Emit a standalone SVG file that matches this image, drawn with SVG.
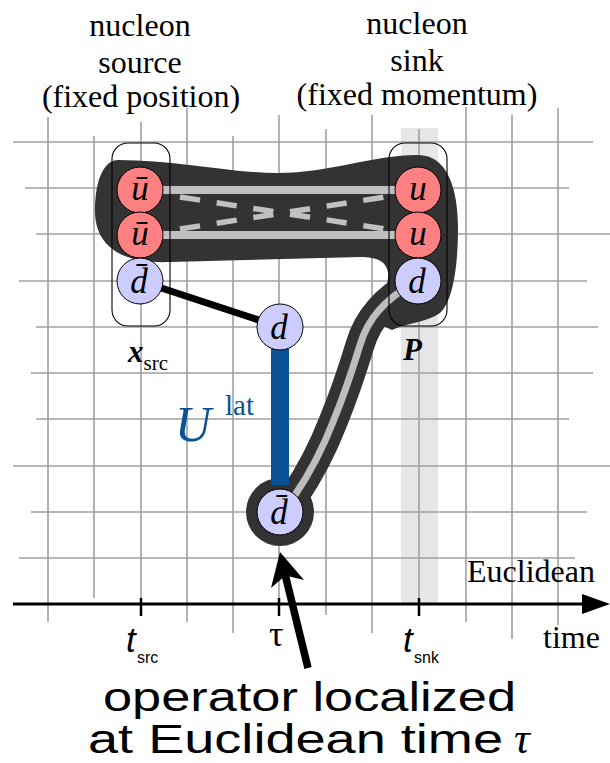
<svg xmlns="http://www.w3.org/2000/svg" width="610" height="763" viewBox="0 0 610 763">
<style>
.grid line{stroke:#a0a0a0;stroke-width:1.6}
.serif{font-family:"Liberation Serif","Times New Roman",serif}
.sans{font-family:"Liberation Sans",Arial,sans-serif}
.q{font-family:"Liberation Serif","Times New Roman",serif;font-style:italic;font-size:35px;text-anchor:middle;fill:#000}
.red{fill:#ff8080;stroke:#000;stroke-width:1}
.blue{fill:#ccccff;stroke:#000;stroke-width:1}
.box{fill:none;stroke:#000;stroke-width:1.1}
</style>
<rect x="0" y="0" width="610" height="763" fill="#fff"/>
<rect id="sink-band" x="401" y="128" width="37" height="476" fill="#e6e6e6"/>
<g class="grid" id="grid">
<line x1="13" y1="142" x2="593" y2="142"/>
<line x1="25" y1="188" x2="569" y2="188"/>
<line x1="36" y1="234" x2="610" y2="234"/>
<line x1="19" y1="281" x2="587" y2="281"/>
<line x1="36" y1="327" x2="598" y2="327"/>
<line x1="31" y1="373" x2="593" y2="373"/>
<line x1="36" y1="419" x2="569" y2="419"/>
<line x1="13" y1="466" x2="610" y2="466"/>
<line x1="31" y1="512" x2="587" y2="512"/>
<line x1="19" y1="558" x2="575" y2="558"/>
<line x1="48" y1="117" x2="48" y2="622"/>
<line x1="94" y1="136" x2="94" y2="598"/>
<line x1="141" y1="122" x2="141" y2="604"/>
<line x1="187" y1="108" x2="187" y2="622"/>
<line x1="233" y1="136" x2="233" y2="633"/>
<line x1="279" y1="115" x2="279" y2="604"/>
<line x1="326" y1="129" x2="326" y2="615"/>
<line x1="372" y1="115" x2="372" y2="633"/>
<line x1="419" y1="129" x2="419" y2="604"/>
<line x1="466" y1="107" x2="466" y2="622"/>
<line x1="512" y1="115" x2="512" y2="639"/>
<line x1="558" y1="108" x2="558" y2="625"/>
</g>
<g id="nucleon-blob">
<path d="M118,160 C175,160 230,173 278,173 C330,173 372,155 418,155 C448,155 458,190 458,228 C458,270 452,302 440,313 C428,322 410,322 392,330 L366,318 C380,300 390,285 388,272 C386,262 378,257 360,257 L170,262 C120,264 95,245 95,211 C95,178 105,160 118,160 Z" fill="#333"/>
<path d="M413,283 C385,300 368,318 360,345 C350,378 342,400 333,422 C322,450 312,470 295,495 L282,512" fill="none" stroke="#333" stroke-width="29" stroke-linecap="round"/>
<circle cx="280" cy="512" r="34" fill="#333"/>
</g>
<g id="connectors">
<line x1="160" y1="190" x2="400" y2="190" stroke="#c0c0c0" stroke-width="8"/>
<line x1="160" y1="235" x2="400" y2="235" stroke="#c0c0c0" stroke-width="8"/>
<line x1="180" y1="197" x2="385" y2="229" stroke="#c0c0c0" stroke-width="5.5" stroke-dasharray="20.3 16.8"/>
<line x1="180" y1="229" x2="385" y2="197" stroke="#c0c0c0" stroke-width="5.5" stroke-dasharray="20.3 16.8"/>
<path d="M413,283 C385,300 368,318 360,345 C350,378 342,400 333,422 C322,450 312,470 295,495 L282,512" fill="none" stroke="#bdbdbd" stroke-width="7"/>
<line x1="140" y1="281" x2="280" y2="327" stroke="#000" stroke-width="7"/>
<line x1="280" y1="345" x2="280" y2="485" stroke="#0a5296" stroke-width="18"/>
</g>
<g id="source-box"><rect class="box" x="112" y="143" width="58" height="183" rx="16"/></g>
<g id="sink-box"><rect class="box" x="389" y="143" width="58" height="183" rx="16"/></g>
<g id="src-ubar1"><circle class="red" cx="140" cy="190" r="23"/><text class="q" x="140" y="200">ū</text></g>
<g id="src-ubar2"><circle class="red" cx="140" cy="235" r="23"/><text class="q" x="140" y="245">ū</text></g>
<g id="src-dbar"><circle class="blue" cx="140" cy="281" r="23"/><text class="q" x="139" y="293">d̄</text></g>
<g id="snk-u1"><circle class="red" cx="418" cy="190" r="23"/><text class="q" x="418" y="200">u</text></g>
<g id="snk-u2"><circle class="red" cx="418" cy="235" r="23"/><text class="q" x="418" y="245">u</text></g>
<g id="snk-d"><circle class="blue" cx="418" cy="281" r="23"/><text class="q" x="417" y="293">d</text></g>
<g id="op-d"><circle class="blue" cx="280" cy="327" r="23"/><text class="q" x="279" y="339">d</text></g>
<g id="op-dbar"><circle class="blue" cx="280" cy="512" r="23"/><text class="q" x="279" y="524">d̄</text></g>
<g id="labels">
<text class="serif" x="128" y="362" font-size="31" font-weight="bold" font-style="italic">x<tspan font-size="21" font-weight="normal" font-style="normal" dy="8">src</tspan></text>
<text class="serif" x="403" y="360" font-size="31" font-weight="bold" font-style="italic">P</text>
<text class="serif" x="175" y="441" font-size="50" font-style="italic" fill="#0a5296">U</text>
<text class="serif" x="225" y="415" font-size="29" fill="#0a5296">lat</text>
<g class="serif" font-size="32" text-anchor="middle">
<text x="140" y="36">nucleon</text>
<text x="140" y="73">source</text>
<text x="141" y="107">(fixed position)</text>
<text x="417" y="34">nucleon</text>
<text x="417" y="71">sink</text>
<text x="417" y="105">(fixed momentum)</text>
</g>
<text class="serif" x="467" y="582" font-size="32">Euclidean</text>
<text class="serif" x="543" y="648" font-size="32">time</text>
<text class="sans" x="126" y="652" font-size="35" font-style="italic">t</text>
<text class="sans" x="137" y="663" font-size="16">src</text>
<text class="serif" x="269" y="646" font-size="36">τ</text>
<text class="sans" x="403" y="652" font-size="35" font-style="italic">t</text>
<text class="sans" x="414" y="663" font-size="16">snk</text>
</g>
<g id="axis">
<line x1="13" y1="604" x2="586" y2="604" stroke="#000" stroke-width="3"/>
<polygon points="610,604 582,594 582,614" fill="#000"/>
<line x1="141" y1="598" x2="141" y2="616" stroke="#000" stroke-width="2.5"/>
<line x1="279" y1="598" x2="279" y2="616" stroke="#000" stroke-width="2.5"/>
<line x1="419" y1="598" x2="419" y2="616" stroke="#000" stroke-width="2.5"/>
</g>
<g id="pointer-arrow">
<line x1="285" y1="574" x2="308" y2="668" stroke="#000" stroke-width="7.5"/>
<polygon points="280,552 304,580 285.4,575.4 271,588" fill="#000"/>
</g>
<g id="caption" class="sans" font-size="41">
<text x="103" y="711" textLength="413" lengthAdjust="spacingAndGlyphs">operator localized</text>
<text x="88" y="753" textLength="415" lengthAdjust="spacingAndGlyphs">at Euclidean time</text>
<text class="serif" x="514" y="753" font-size="44" font-style="italic">τ</text>
</g>
</svg>
